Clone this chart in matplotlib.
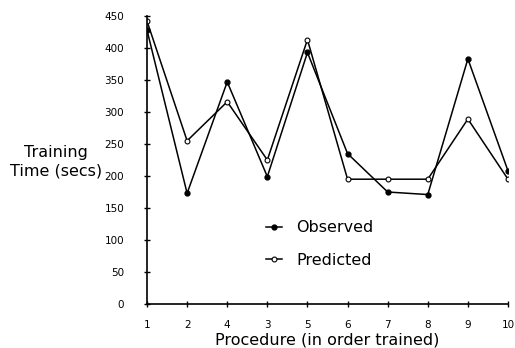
import matplotlib
matplotlib.use("Agg")
import matplotlib.pyplot as plt

# procedures in the order they were trained
procedures = ["1", "2", "4", "3", "5", "6", "7", "8", "9", "10"]
observed = [428, 173, 347, 199, 393, 235, 175, 171, 383, 208]
predicted = [442, 255, 316, 225, 413, 195, 195, 195, 289, 195]

fig = plt.figure(figsize=(5.15, 3.48), dpi=100)
ax = fig.add_axes([147 / 515, 1 - 304 / 348, (508 - 147) / 515, (304 - 16) / 348])

x = list(range(len(procedures)))
ax.plot(x, observed, color="black", lw=1.1, marker="o", ms=3.5,
        mfc="black", mec="black", label="Observed")
ax.plot(x, predicted, color="black", lw=1.1, marker="o", ms=3.5,
        mfc="white", mec="black", mew=0.8, label="Predicted")

ax.set_xlim(0, len(procedures) - 1)
ax.set_ylim(0, 450)
ax.set_xticks(x)
ax.set_xticklabels(procedures)
ax.set_yticks(range(0, 451, 50))
ax.tick_params(direction="inout", length=5, width=1, labelsize=7.5)
ax.tick_params(axis="y", pad=14)
ax.tick_params(axis="x", pad=9)
for s in ["top", "right"]:
    ax.spines[s].set_visible(False)
for s in ["left", "bottom"]:
    ax.spines[s].set_linewidth(1.2)

ax.set_xlabel("Procedure (in order trained)", fontsize=11.5, labelpad=2)
fig.text(56 / 515, 1 - 162 / 348, "Training\nTime (secs)", fontsize=11.5,
         ha="center", va="center", linespacing=1.25)

ax.legend(loc="upper left", bbox_to_anchor=(0.29, 0.34), frameon=False,
          fontsize=11.5, handlelength=1.0, handletextpad=0.9, labelspacing=1.1)

fig.savefig("out.png", dpi=100)
